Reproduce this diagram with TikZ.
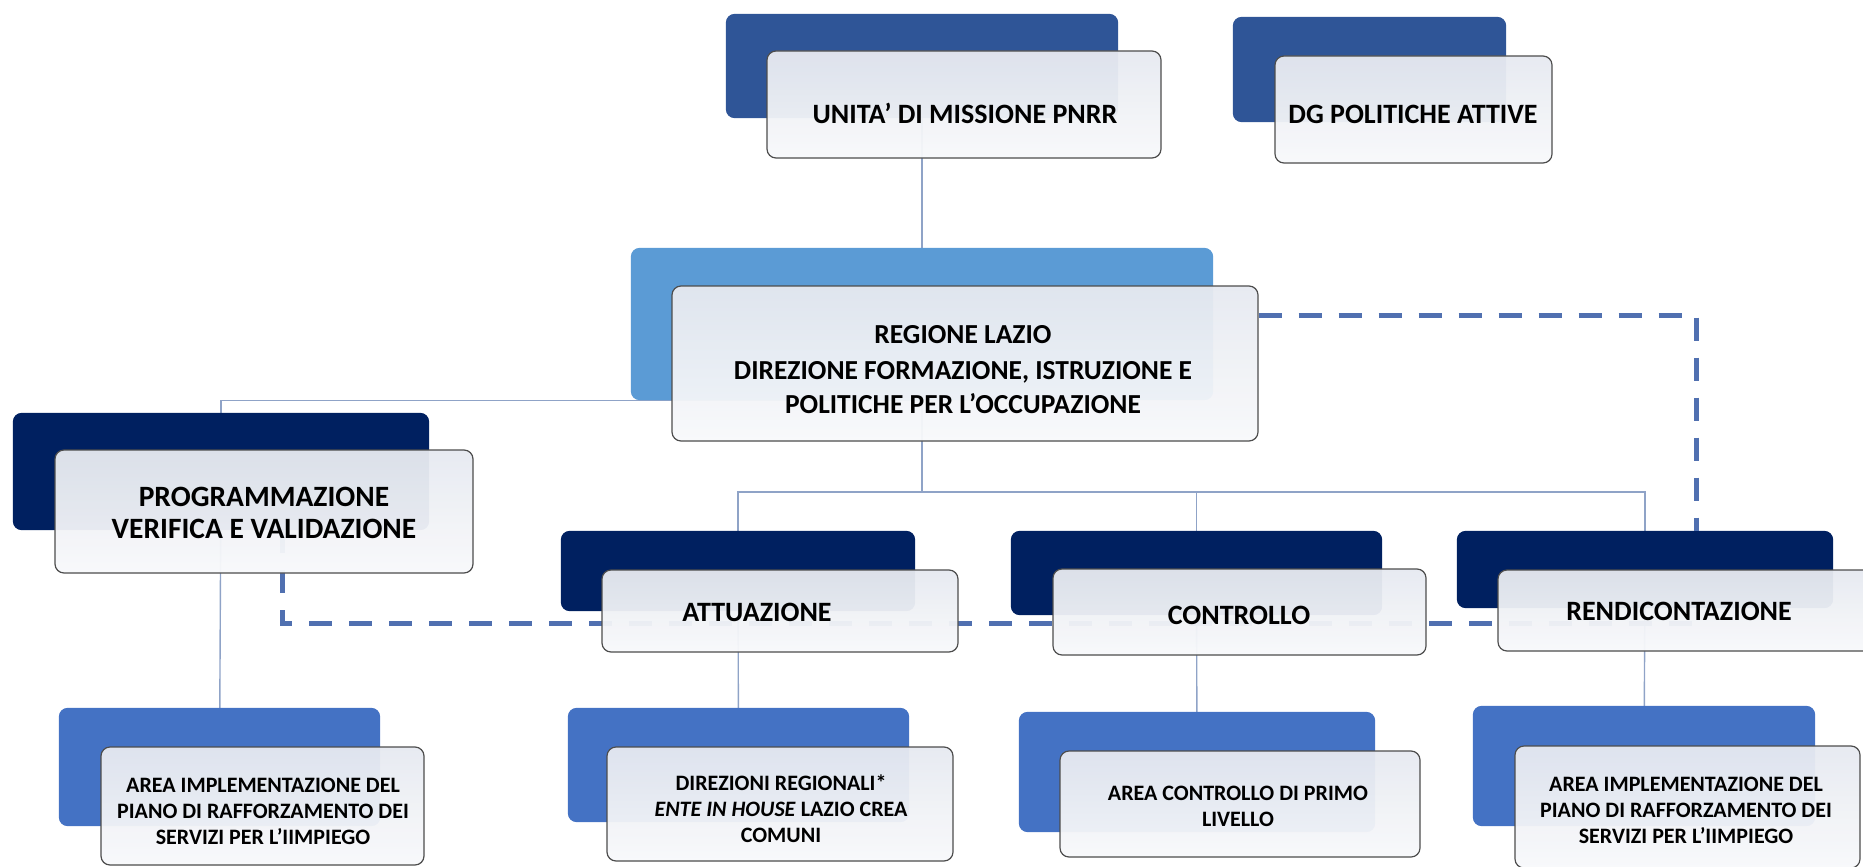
\documentclass[tikz,border=0pt]{standalone}
\usepackage{fontspec}
\setmainfont{Carlito}
\definecolor{midblue}{HTML}{2F5597}
\definecolor{lightblue}{HTML}{5B9BD5}
\definecolor{navy}{HTML}{002060}
\definecolor{accent}{HTML}{4472C4}
\definecolor{ftop}{HTML}{E6E9F0}
\definecolor{fbot}{HTML}{F8F9FB}
\definecolor{conn}{HTML}{8FA3C7}
\definecolor{dashc}{HTML}{5070B0}
\definecolor{edge}{HTML}{4D4D4D}
\tikzset{
  backbox/.style={rectangle, rounded corners=9pt, inner sep=0pt, draw=none},
  frontbox/.style={rectangle, rounded corners=9pt, inner sep=0pt, draw=edge, line width=1.2pt,
     top color=ftop, bottom color=fbot, fill opacity=0.955},
  lbl/.style={align=center, font=\bfseries, text=black},
  connector/.style={draw=conn, line width=1.4pt},
  dashlink/.style={draw=dashc, line width=5pt, dash pattern=on 23pt off 17pt}
}
\begin{document}
\begin{tikzpicture}[x=1pt,y=-1pt]
\useasboundingbox (0,0) rectangle (1863,867);
% back boxes
\path
 node[backbox, minimum width=392pt, minimum height=104pt] (ub) at (922,66) {}
 node[backbox, minimum width=273pt, minimum height=105pt] (db) at (1369.5,69.5) {}
 node[backbox, minimum width=582pt, minimum height=152pt] (rb) at (922,324) {}
 node[backbox, minimum width=416pt, minimum height=117pt] (pb) at (221,471.5) {}
 node[backbox, minimum width=354pt, minimum height=80pt] (ab) at (738,571) {}
 node[backbox, minimum width=371pt, minimum height=84pt] (cb) at (1196.5,573) {}
 node[backbox, minimum width=376pt, minimum height=77pt] (eb) at (1645,569.5) {}
 node[backbox, minimum width=321pt, minimum height=118pt] (b1b) at (219.5,767) {}
 node[backbox, minimum width=341pt, minimum height=114pt] (b2b) at (738.5,765) {}
 node[backbox, minimum width=356pt, minimum height=120pt] (b3b) at (1197,772) {}
 node[backbox, minimum width=342pt, minimum height=120pt] (b4b) at (1644,766) {};
\coordinate (bus) at (923,492);
\coordinate (d1) at (1696,315);
\coordinate (d2) at (282,623);
\coordinate (d3) at (1700,623);
% connectors (behind)
\draw[connector] (ub.center) -- (rb.center);
\draw[connector] (rb.center) -- (rb.center |- bus);
\draw[connector] (ab.center) -- (ab.center |- bus) -- (eb.center |- bus) -- (eb.center);
\draw[connector] (cb.center) -- (cb.center |- bus);
\draw[connector] (pb.center) -- (pb.center |- rb.south) -- (rb.south);
\draw[connector] (pb.center) -- (b1b.center);
\draw[connector] (ab.center) -- (b2b.center);
\draw[connector] (cb.center) -- (b3b.center);
\draw[connector] (eb.center) -- (b4b.center);
% fill back boxes over the connectors
\foreach \n/\c in {ub/midblue,db/midblue,rb/lightblue,pb/navy,ab/navy,cb/navy,eb/navy,b1b/accent,b2b/accent,b3b/accent,b4b/accent}
  \fill[\c, rounded corners=9pt] (\n.north west) rectangle (\n.south east);
% front boxes
\node[frontbox, minimum width=394pt, minimum height=107pt] (uf) at (964,104.5) {};
\node[frontbox, minimum width=277pt, minimum height=107pt] (df) at (1413.5,109.5) {};
\draw[dashlink] (d2 |- pb.south) -- (d2) -- (d3);
\node[frontbox, minimum width=586pt, minimum height=155pt] (rf) at (965,363.5) {};
\draw[dashlink] (rf.east |- d1) -- (d1) -- (d1 |- eb.north);
\node[frontbox, minimum width=418pt, minimum height=123pt] (pf) at (264,511.5) {};
\node[frontbox, minimum width=356pt, minimum height=82pt] (af) at (780,611) {};
\node[frontbox, minimum width=373pt, minimum height=86pt] (cf) at (1239.5,612) {};
\node[frontbox, minimum width=378pt, minimum height=81pt] (ef) at (1687,610.5) {};
\node[frontbox, minimum width=323pt, minimum height=118pt] (b1f) at (262.5,806) {};
\node[frontbox, minimum width=346pt, minimum height=114pt] (b2f) at (780,804) {};
\node[frontbox, minimum width=360pt, minimum height=106pt] (b3f) at (1240,804) {};
\node[frontbox, minimum width=345pt, minimum height=122pt] (b4f) at (1687.5,807) {};
% labels
\node[lbl, font=\bfseries\fontsize{28}{32}\selectfont] (tu) at (965,113) {UNITA' DI MISSIONE PNRR};
\node[lbl, font=\bfseries\fontsize{28}{32}\selectfont] (td) at (1413,114) {DG POLITICHE ATTIVE};
\node[lbl, font=\bfseries\fontsize{27.5}{34}\selectfont] (tr) at (963,370) {REGIONE LAZIO\\[2pt] DIREZIONE FORMAZIONE, ISTRUZIONE E\\ POLITICHE PER L'OCCUPAZIONE};
\node[lbl, font=\bfseries\fontsize{29.5}{32}\selectfont] (tp) at (264,513) {PROGRAMMAZIONE\\ VERIFICA E VALIDAZIONE};
\node[lbl, font=\bfseries\fontsize{28}{32}\selectfont] (ta) at (757,612) {ATTUAZIONE};
\node[lbl, font=\bfseries\fontsize{28}{32}\selectfont] (tc) at (1239,615) {CONTROLLO};
\node[lbl, font=\bfseries\fontsize{28}{32}\selectfont] (te) at (1679,611) {RENDICONTAZIONE};
\node[lbl, font=\bfseries\fontsize{22}{26}\selectfont] (t1) at (263,811) {AREA IMPLEMENTAZIONE DEL\\ PIANO DI RAFFORZAMENTO DEI\\ SERVIZI PER L'IIMPIEGO};
\node[lbl, font=\bfseries\fontsize{22}{26}\selectfont] (t2) at (781,809) {DIREZIONI REGIONALI*\\ \textit{ENTE IN HOUSE} LAZIO CREA\\ COMUNI};
\node[lbl, font=\bfseries\fontsize{22}{26}\selectfont] (t3) at (1238,806) {AREA CONTROLLO DI PRIMO\\ LIVELLO};
\node[lbl, font=\bfseries\fontsize{22}{26}\selectfont] (t4) at (1686,810) {AREA IMPLEMENTAZIONE DEL\\ PIANO DI RAFFORZAMENTO DEI\\ SERVIZI PER L'IIMPIEGO};
\end{tikzpicture}
\end{document}
